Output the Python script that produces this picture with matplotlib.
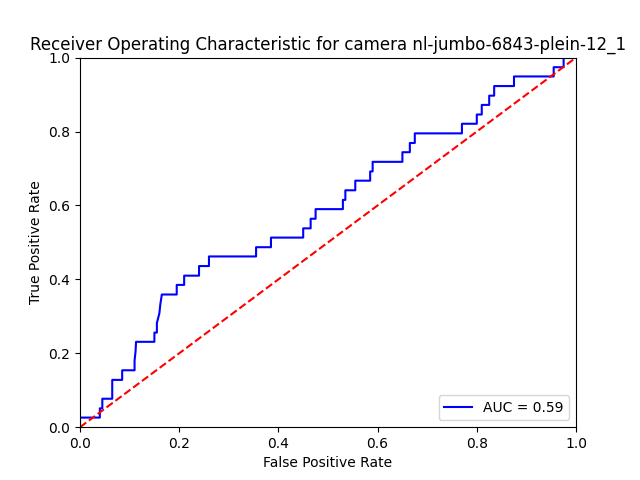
import matplotlib
matplotlib.use("Agg")
import matplotlib.pyplot as plt

fpr = [0.0, 0.0, 0.04, 0.04, 0.045, 0.045, 0.065, 0.065, 0.085, 0.085, 0.11, 0.11, 0.112, 0.113,
       0.15, 0.15, 0.155, 0.155, 0.16, 0.162, 0.165, 0.195, 0.195, 0.21, 0.21, 0.24, 0.24, 0.26, 0.26,
       0.355, 0.355, 0.385, 0.385, 0.45, 0.45, 0.465, 0.465, 0.475, 0.475, 0.53, 0.53, 0.535, 0.535,
       0.555, 0.555, 0.585, 0.585, 0.59, 0.59, 0.65, 0.65, 0.665, 0.665, 0.675, 0.675, 0.77, 0.77,
       0.80, 0.80, 0.81, 0.81, 0.825, 0.825, 0.835, 0.835, 0.875, 0.875, 0.955, 0.955, 0.975, 0.975, 1.0]
tpr = [0.0, 0.026, 0.026, 0.051, 0.051, 0.077, 0.077, 0.128, 0.128, 0.154, 0.154, 0.18, 0.205, 0.231,
       0.231, 0.256, 0.256, 0.282, 0.308, 0.333, 0.359, 0.359, 0.385, 0.385, 0.41, 0.41, 0.436, 0.436, 0.462,
       0.462, 0.487, 0.487, 0.513, 0.513, 0.538, 0.538, 0.564, 0.564, 0.59, 0.59, 0.615, 0.615, 0.641,
       0.641, 0.667, 0.667, 0.692, 0.692, 0.718, 0.718, 0.744, 0.744, 0.769, 0.769, 0.795, 0.795, 0.821,
       0.821, 0.846, 0.846, 0.872, 0.872, 0.897, 0.897, 0.923, 0.923, 0.949, 0.949, 0.974, 0.974, 1.0, 1.0]
auc = 0.59

fig = plt.figure(figsize=(6.4, 4.8), dpi=100)
plt.title('Receiver Operating Characteristic for camera nl-jumbo-6843-plein-12_1')
plt.plot(fpr, tpr, 'b', label='AUC = %0.2f' % auc)
plt.legend(loc='lower right')
plt.plot([0, 1], [0, 1], 'r--')
plt.xlim([0, 1])
plt.ylim([0, 1])
plt.ylabel('True Positive Rate')
plt.xlabel('False Positive Rate')
plt.savefig('out.png')
